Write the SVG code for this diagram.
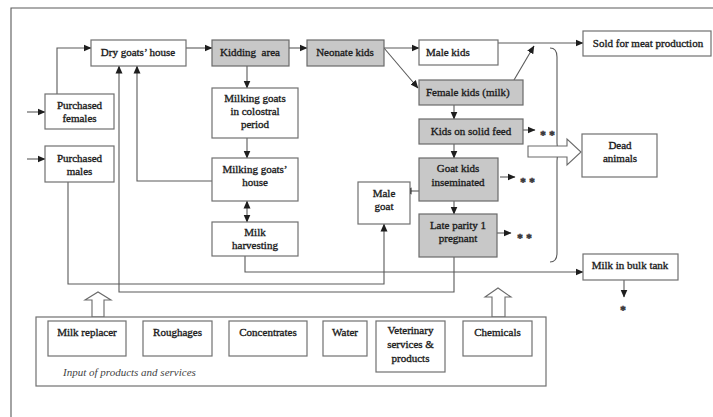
<svg xmlns="http://www.w3.org/2000/svg" width="713" height="417" viewBox="0 0 713 417">
  <defs>
    <marker id="ah" viewBox="0 0 8 8" refX="7.5" refY="4" markerWidth="8" markerHeight="8" markerUnits="userSpaceOnUse" orient="auto-start-reverse">
      <path d="M0,0.5 L8,4 L0,7.5 Z" fill="#1e1e1e"/>
    </marker>
    <style>
      .box { fill: #ffffff; stroke: #707070; stroke-width: 1.2; }
      .grey { fill: #c8c8c8; stroke: #6a6a6a; stroke-width: 1.2; }
      .ln { fill: none; stroke: #5a5a5a; stroke-width: 1.1; }
      .arr { fill: none; stroke: #5a5a5a; stroke-width: 1.1; marker-end: url(#ah); }
      .dbl { fill: none; stroke: #5a5a5a; stroke-width: 1.1; marker-end: url(#ah); marker-start: url(#ah); }
      .hollow { fill: #ffffff; stroke: #6a6a6a; stroke-width: 1.1; }
      text { font-family: "Liberation Serif", "Times New Roman", serif; font-size: 11px; fill: #1c1c1c; stroke: #1c1c1c; stroke-width: 0.35; text-anchor: middle; }
      .l { text-anchor: start; }
      .it { font-style: italic; text-anchor: start; fill: #444; stroke: none; }
      .star { font-size: 12px; font-weight: bold; text-anchor: start; fill: #333; stroke: #333; stroke-width: 0.4; }
    </style>
  </defs>

  <rect width="713" height="417" fill="#ffffff"/>

  <!-- outer frame (open at right and bottom) -->
  <path class="ln" d="M11,417 L11,8 L713,8" stroke="#777"/>

  <!-- connectors -->
  <g id="connectors">
    <path class="arr" d="M27,112 L45,112"/>
    <path class="arr" d="M27,159 L45,159"/>
    <path class="arr" d="M57,94 L57,48 L91,48"/>
    <path class="arr" d="M186,48 L212,48"/>
    <path class="arr" d="M289,48 L307,48"/>
    <path class="arr" d="M384,48 L419,48"/>
    <path class="arr" d="M384,48 L418,88"/>
    <path class="arr" d="M498,43 L583,43"/>
    <path class="arr" d="M514,80 L534,46"/>
    <path class="arr" d="M247,66 L247,88"/>
    <path class="arr" d="M247,138 L247,158"/>
    <path class="dbl" d="M247,201 L247,222"/>
    <path class="arr" d="M454,105 L454,119"/>
    <path class="arr" d="M454,144 L454,158"/>
    <path class="arr" d="M454,201 L454,214"/>
    <path class="dbl" d="M404,191 L426,191"/>
    <path class="arr" d="M521,130 L535,130"/>
    <path class="arr" d="M500,177 L515,177"/>
    <path class="arr" d="M497,233 L511,233"/>
    <path class="arr" d="M624,280 L624,297"/>
    <!-- return to dry goats' house -->
    <path class="arr" d="M212,181 L137,181 L137,66"/>
    <path class="arr" d="M454,257 L454,292 L119,292 L119,66"/>
    <!-- purchased males to male goat -->
    <path class="arr" d="M68,182 L68,284 L384,284 L384,224"/>
    <!-- milk to bulk tank -->
    <path class="arr" d="M245,256 L245,272 L583,272"/>
    <!-- brace grouping losses -->
    <path class="ln" d="M550,48 Q557,48 557,57 L557,143 Q557,152 562,152 Q557,152 557,161 L557,253 Q557,262 550,262"/>
    <!-- hollow arrows -->
    <polygon class="hollow" points="528,146 567,146 567,139 581,152 567,165 567,157 528,157"/>
    <polygon class="hollow" points="92,317 92,300 85,300 98,292 111,300 104,300 104,317"/>
    <polygon class="hollow" points="492,317 492,297 485,297 498,288 511,297 505,297 505,317"/>
  </g>

  <!-- loss markers -->
  <text class="star" x="540" y="139">* *</text>
  <text class="star" x="520" y="186">* *</text>
  <text class="star" x="517" y="242">* *</text>
  <text class="star" x="620" y="314">*</text>

  <g id="purchased-females">
    <rect class="box" x="45" y="94" width="69" height="35"/>
    <text x="79.5" y="109">Purchased</text>
    <text x="79.5" y="122">females</text>
  </g>
  <g id="purchased-males">
    <rect class="box" x="45" y="146" width="69" height="36"/>
    <text x="79.5" y="162">Purchased</text>
    <text x="79.5" y="175">males</text>
  </g>
  <g id="dry-goats-house">
    <rect class="box" x="91" y="40" width="95" height="26"/>
    <text x="138" y="56">Dry goats’ house</text>
  </g>
  <g id="kidding-area">
    <rect class="grey" x="212" y="40" width="77" height="26"/>
    <text x="250" y="56" xml:space="preserve">Kidding  area</text>
  </g>
  <g id="neonate-kids">
    <rect class="grey" x="307" y="40" width="77" height="26"/>
    <text x="345" y="56">Neonate kids</text>
  </g>
  <g id="male-kids">
    <rect class="box" x="419" y="40" width="79" height="25"/>
    <text class="l" x="426" y="56">Male kids</text>
  </g>
  <g id="sold-meat">
    <rect class="box" x="583" y="31" width="128" height="25"/>
    <text x="648" y="47">Sold for meat production</text>
  </g>
  <g id="colostral">
    <rect class="box" x="212" y="88" width="86" height="50"/>
    <text x="255" y="102">Milking goats</text>
    <text x="255" y="115">in colostral</text>
    <text x="255" y="128">period</text>
  </g>
  <g id="milking-house">
    <rect class="box" x="212" y="158" width="86" height="43"/>
    <text x="255" y="173">Milking goats’</text>
    <text x="255" y="186">house</text>
  </g>
  <g id="milk-harvesting">
    <rect class="box" x="212" y="222" width="86" height="34"/>
    <text x="255" y="236">Milk</text>
    <text x="255" y="249">harvesting</text>
  </g>
  <g id="female-kids">
    <rect class="grey" x="419" y="80" width="104" height="25"/>
    <text class="l" x="426" y="96">Female kids (milk)</text>
  </g>
  <g id="solid-feed">
    <rect class="grey" x="419" y="119" width="104" height="25"/>
    <text x="471" y="135">Kids on solid feed</text>
  </g>
  <g id="inseminated">
    <rect class="grey" x="419" y="158" width="79" height="43"/>
    <text x="458" y="172">Goat kids</text>
    <text x="458" y="186">inseminated</text>
  </g>
  <g id="male-goat">
    <rect class="box" x="358" y="182" width="52" height="42"/>
    <text x="384" y="197">Male</text>
    <text x="384" y="210">goat</text>
  </g>
  <g id="late-parity">
    <rect class="grey" x="419" y="214" width="78" height="43"/>
    <text x="458" y="229">Late parity 1</text>
    <text x="458" y="242">pregnant</text>
  </g>
  <g id="dead-animals">
    <rect class="box" x="582" y="134" width="75" height="43"/>
    <text x="620" y="149">Dead</text>
    <text x="620" y="162">animals</text>
  </g>
  <g id="bulk-tank">
    <rect class="box" x="583" y="254" width="95" height="26"/>
    <text x="630" y="269">Milk in bulk tank</text>
  </g>

  <g id="inputs">
    <rect class="box" x="36" y="317" width="510" height="69"/>
    <rect class="box" x="48" y="321" width="78" height="35"/>
    <text x="87" y="336">Milk replacer</text>
    <rect class="box" x="143" y="321" width="69" height="35"/>
    <text x="177.5" y="336">Roughages</text>
    <rect class="box" x="229" y="321" width="78" height="35"/>
    <text x="268" y="336">Concentrates</text>
    <rect class="box" x="323" y="321" width="44" height="35"/>
    <text x="345" y="336">Water</text>
    <rect class="box" x="376" y="321" width="69" height="51"/>
    <text x="410.5" y="334">Veterinary</text>
    <text x="410.5" y="348">services &amp;</text>
    <text x="410.5" y="362">products</text>
    <rect class="box" x="463" y="321" width="69" height="35"/>
    <text x="497.5" y="336">Chemicals</text>
    <text class="it" x="63" y="376">Input of products and services</text>
  </g>
</svg>
